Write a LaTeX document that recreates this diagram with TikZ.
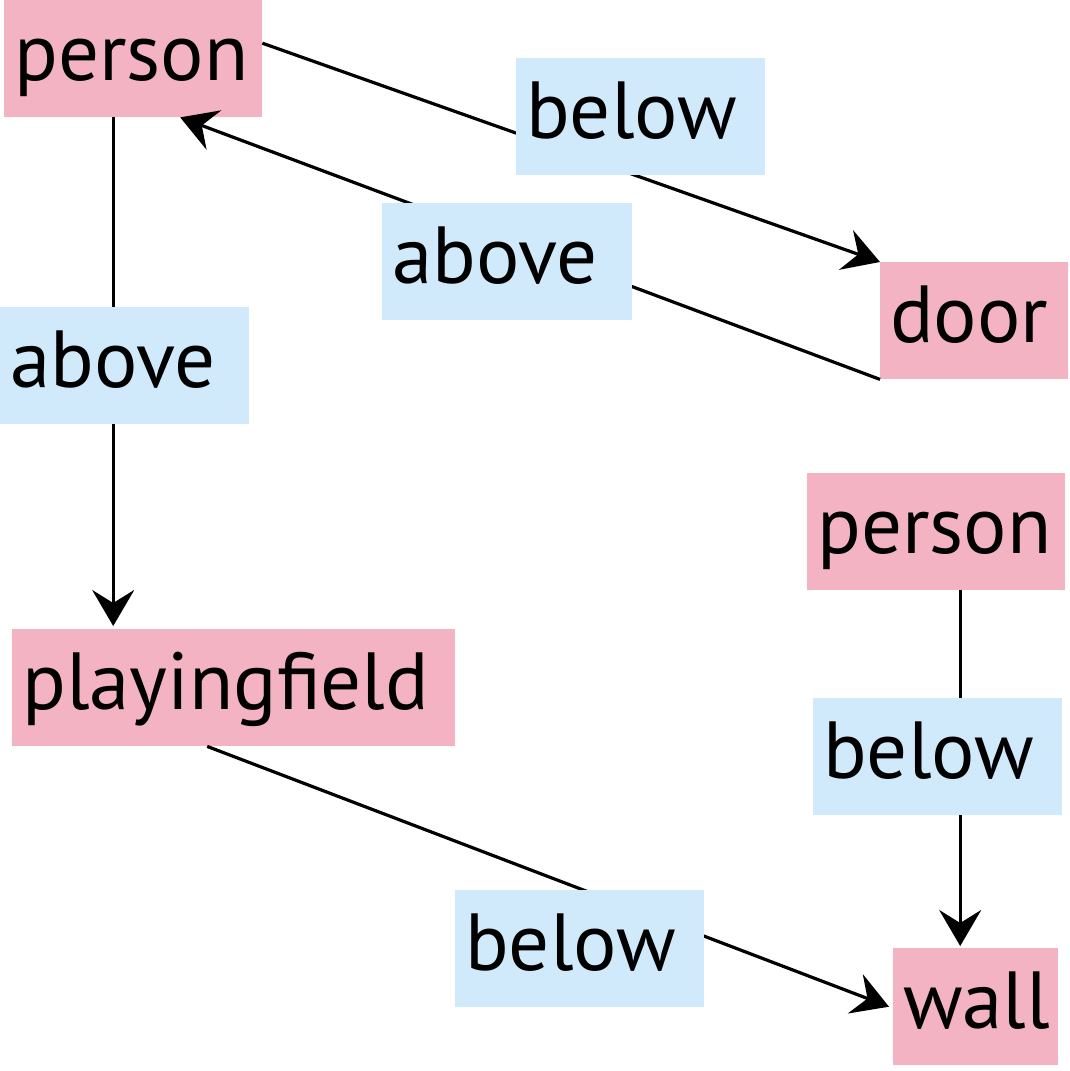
\documentclass[tikz,border=0pt]{standalone}
\usepackage{fontspec}
\setmainfont{PT Sans}
\usetikzlibrary{arrows.meta,calc}
\definecolor{objpink}{HTML}{F4B3C2}
\definecolor{relblue}{HTML}{D0EAFB}
\begin{document}
\begin{tikzpicture}[x=1pt,y=-1pt,
  box/.style={anchor=north west, inner xsep=10pt, inner ysep=0pt,
    text height=80pt, text depth=37pt, align=left,
    font=\fontsize{81}{81}\selectfont},
  obj/.style={box, fill=objpink},
  rel/.style={box, fill=relblue},
  edge/.style={line width=3.2pt},
  arr/.style={edge, -{Stealth[length=36pt,width=42pt,inset=13pt]}}]
\useasboundingbox[fill=white] (0,0) rectangle (1070,1071);
% objects
\node[obj, text width=238pt] (p1) at (4,0) {person};
\node[obj, text width=168pt] (door) at (880,262) {door};
\node[obj, text width=238pt] (p2) at (807,473) {person};
\node[obj, text width=423pt] (pf) at (12,629) {playingfield};
\node[obj, text width=145pt] (wall) at (893,948) {wall};
% connectors
\draw[arr] ([yshift=15.5pt]p1.east) -- (door.north west);
\draw[arr] (door.south west) -- ([xshift=47pt]p1.south);
\draw[arr] ([xshift=-20pt]p1.south) -- ([xshift=-120.5pt,yshift=3pt]pf.north);
\draw[arr] ([xshift=-26.5pt]pf.south) -- ([xshift=-4pt]wall.west);
\draw[arr] ([xshift=24pt]p2.south) -- ([xshift=-15.5pt,yshift=2pt]wall.north);
% relation labels
\node[rel, text width=229pt] (b1) at (516,58) {below};
\node[rel, text width=230pt] (a1) at (382,203) {above};
\node[rel, text width=229pt] (a2) at (0,307) {above};
\node[rel, text width=229pt] (b2) at (813,698) {below};
\node[rel, text width=229pt] (b3) at (455,890) {below};
\end{tikzpicture}
\end{document}
